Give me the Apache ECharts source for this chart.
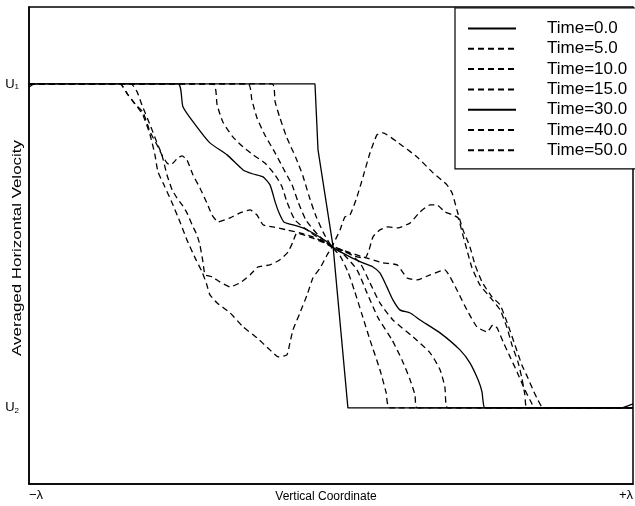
<!DOCTYPE html>
<html>
<head>
<meta charset="utf-8">
<script src="https://cdn.jsdelivr.net/npm/echarts@6/dist/echarts.min.js"></script>
<style>
html,body{margin:0;padding:0;background:#fff;}
#chart{width:635px;height:506px;}
</style>
</head>
<body>
<div id="chart"></div>
<script>
// Horizontal axis in units of lambda (-1 .. +1); vertical axis: U1 = 1, U2 = -1
const xTickLabels = { '-1': '\u2212\u03bb', '1': '+\u03bb' };
const yTickValues = [1, -1];
const yTickLabels = { '1': 'U{s|1}', '-1': 'U{s|2}' };
const legendNames = ['Time=0.0', 'Time=5.0', 'Time=10.0', 'Time=15.0', 'Time=30.0', 'Time=40.0', 'Time=50.0'];

const time0 = [[-1,0.981],[-0.987,0.997],[-0.970,1],[-0.053,1],[-0.043,0.593],[0.007,-0.006],[0.056,-1],[0.964,-1],[0.983,-0.988],[1,-0.975]];
const time5 = [[-1,1],[-0.195,1],[-0.185,0.889],[-0.169,0.790],[-0.146,0.667],[-0.116,0.543],[-0.093,0.432],[-0.073,0.309],[-0.050,0.185],[-0.023,0.074],[0.003,-0.006],[0.030,-0.062],[0.056,-0.160],[0.079,-0.284],[0.103,-0.426],[0.129,-0.580],[0.162,-0.765],[0.182,-0.901],[0.195,-1],[1,-1]];
const time10 = [[-1,1],[-0.275,1],[-0.262,0.901],[-0.245,0.790],[-0.219,0.685],[-0.185,0.574],[-0.152,0.457],[-0.129,0.377],[-0.109,0.272],[-0.083,0.160],[-0.043,0.068],[0.003,-0.006],[0.040,-0.049],[0.086,-0.148],[0.119,-0.290],[0.156,-0.444],[0.202,-0.580],[0.235,-0.704],[0.262,-0.827],[0.278,-0.920],[0.285,-1],[1,-1]];
const time15 = [[-1,1],[-0.391,1],[-0.377,0.870],[-0.358,0.765],[-0.325,0.673],[-0.291,0.611],[-0.258,0.562],[-0.219,0.512],[-0.185,0.438],[-0.162,0.364],[-0.146,0.272],[-0.119,0.160],[-0.070,0.086],[-0.023,0.025],[0.003,-0.006],[0.053,-0.037],[0.096,-0.105],[0.129,-0.228],[0.162,-0.352],[0.205,-0.457],[0.272,-0.562],[0.328,-0.660],[0.361,-0.765],[0.377,-0.870],[0.387,-1],[1,-1]];
const time30 = [[-1,1],[-0.507,1],[-0.490,0.858],[-0.444,0.735],[-0.401,0.636],[-0.344,0.562],[-0.291,0.469],[-0.258,0.444],[-0.225,0.426],[-0.202,0.377],[-0.185,0.272],[-0.172,0.204],[-0.156,0.148],[-0.126,0.130],[-0.093,0.111],[-0.060,0.080],[-0.013,0.025],[0.003,-0.006],[0.063,-0.068],[0.106,-0.105],[0.139,-0.130],[0.162,-0.167],[0.185,-0.253],[0.205,-0.333],[0.228,-0.395],[0.262,-0.414],[0.295,-0.457],[0.361,-0.537],[0.427,-0.642],[0.460,-0.722],[0.487,-0.827],[0.500,-0.901],[0.503,-0.951],[0.510,-1],[1,-1]];
const time40 = [[-1,1],[-0.699,1],[-0.672,0.932],[-0.649,0.877],[-0.623,0.827],[-0.599,0.704],[-0.576,0.623],[-0.560,0.562],[-0.543,0.512],[-0.533,0.500],[-0.523,0.512],[-0.507,0.543],[-0.493,0.556],[-0.477,0.531],[-0.457,0.438],[-0.434,0.358],[-0.411,0.265],[-0.394,0.191],[-0.374,0.148],[-0.334,0.173],[-0.301,0.204],[-0.268,0.222],[-0.245,0.191],[-0.225,0.130],[-0.192,0.117],[-0.146,0.099],[-0.103,0.080],[-0.060,0.056],[-0.003,0.006],[0.046,-0.031],[0.106,-0.068],[0.172,-0.105],[0.219,-0.117],[0.252,-0.198],[0.285,-0.210],[0.328,-0.179],[0.377,-0.148],[0.394,-0.191],[0.417,-0.272],[0.450,-0.395],[0.483,-0.500],[0.517,-0.531],[0.536,-0.488],[0.550,-0.506],[0.570,-0.593],[0.593,-0.685],[0.616,-0.778],[0.639,-0.877],[0.659,-0.951],[0.675,-1],[1,-1]];
const time50 = [[-1,1],[-0.699,1],[-0.672,0.932],[-0.649,0.877],[-0.623,0.809],[-0.599,0.685],[-0.583,0.562],[-0.573,0.457],[-0.550,0.364],[-0.526,0.265],[-0.500,0.148],[-0.477,0.037],[-0.450,-0.074],[-0.427,-0.160],[-0.411,-0.241],[-0.401,-0.302],[-0.377,-0.352],[-0.334,-0.414],[-0.291,-0.500],[-0.245,-0.568],[-0.202,-0.642],[-0.175,-0.685],[-0.146,-0.673],[-0.136,-0.599],[-0.126,-0.519],[-0.103,-0.414],[-0.079,-0.302],[-0.060,-0.198],[-0.036,-0.136],[-0.013,-0.056],[0.003,-0.006],[0.030,0.099],[0.046,0.179],[0.063,0.191],[0.086,0.302],[0.106,0.426],[0.129,0.574],[0.152,0.685],[0.172,0.698],[0.219,0.642],[0.285,0.549],[0.338,0.451],[0.384,0.377],[0.401,0.327],[0.417,0.222],[0.437,0.099],[0.460,-0.006],[0.477,-0.117],[0.500,-0.222],[0.533,-0.315],[0.560,-0.364],[0.586,-0.488],[0.609,-0.611],[0.632,-0.735],[0.652,-0.815],[0.669,-0.889],[0.685,-0.951],[0.702,-1],[1,-1]];
// an additional dashed profile drawn in the figure (not listed in its legend)
const timeExtra = [[-1,1],[-0.662,1],[-0.642,0.951],[-0.626,0.870],[-0.599,0.747],[-0.576,0.636],[-0.560,0.562],[-0.543,0.438],[-0.526,0.346],[-0.510,0.296],[-0.493,0.253],[-0.477,0.204],[-0.460,0.130],[-0.444,0.068],[-0.434,0.006],[-0.424,-0.099],[-0.417,-0.179],[-0.394,-0.191],[-0.368,-0.222],[-0.334,-0.253],[-0.301,-0.228],[-0.268,-0.179],[-0.242,-0.130],[-0.202,-0.117],[-0.169,-0.086],[-0.142,-0.037],[-0.126,0.025],[-0.113,0.080],[-0.063,0.049],[-0.023,0.019],[0.003,-0.006],[0.046,-0.037],[0.086,-0.068],[0.113,-0.074],[0.126,-0.025],[0.139,0.056],[0.162,0.099],[0.189,0.117],[0.222,0.111],[0.262,0.142],[0.295,0.210],[0.328,0.253],[0.351,0.253],[0.377,0.210],[0.404,0.191],[0.421,0.173],[0.434,0.086],[0.450,-0.025],[0.467,-0.136],[0.493,-0.241],[0.526,-0.315],[0.560,-0.395],[0.583,-0.506],[0.599,-0.611],[0.619,-0.716],[0.632,-0.815],[0.642,-0.920],[0.649,-1],[1,-1]];

const FONT = 'Liberation Sans, Arial, Helvetica, sans-serif';
const DASH = [6, 4];

function line(name, data, dashed, smooth) {
  return {
    name: name,
    type: 'line',
    data: data,
    symbol: 'none',
    smooth: smooth,
    silent: true,
    lineStyle: { color: '#000', width: 1.3, type: dashed ? DASH : 'solid' },
    itemStyle: { color: '#000' },
    emphasis: { disabled: true }
  };
}

const chart = echarts.init(document.getElementById('chart'), null, { renderer: 'canvas' });
chart.setOption({
  animation: false,
  backgroundColor: '#fff',
  grid: { left: 29, right: 2, top: 7, bottom: 22, outerBoundsMode: 'none', containLabel: false, show: true, borderColor: '#000', borderWidth: 1.5, backgroundColor: 'transparent' },
  xAxis: {
    type: 'value', min: -1, max: 1, interval: 1,
    name: 'Vertical Coordinate', nameLocation: 'middle', nameGap: 7, nameMoveOverlap: false,
    nameTextStyle: { color: '#000', fontFamily: FONT, fontSize: 12, padding: [0, 10, 0, 0] },
    axisLine: { show: true, onZero: false, lineStyle: { color: '#000', width: 1.5 } },
    axisTick: { show: false },
    splitLine: { show: false },
    axisLabel: {
      color: '#000', fontFamily: FONT, fontSize: 13, margin: 5,
      alignMinLabel: 'left', alignMaxLabel: 'right',
      formatter: function (v) { return xTickLabels[String(v)] || ''; }
    }
  },
  yAxis: {
    type: 'value', min: -1.47, max: 1.475,
    axisLine: { show: true, onZero: false, lineStyle: { color: '#000', width: 1.5 } },
    axisTick: { show: false },
    splitLine: { show: false },
    axisLabel: {
      customValues: yTickValues,
      color: '#000', fontFamily: FONT, fontSize: 13, margin: 10,
      formatter: function (v) { return yTickLabels[String(v)] || ''; },
      rich: { s: { fontFamily: FONT, fontSize: 8, padding: [6, 0, 0, 0], color: '#000' } }
    }
  },
  legend: {
    data: legendNames,
    orient: 'vertical',
    left: 455, top: 8,
    padding: [12, 9, 10, 12],
    itemWidth: 48, itemHeight: 14, itemGap: 3.3,
    borderColor: '#000', borderWidth: 1.2,
    backgroundColor: '#fff',
    selectedMode: false,
    itemStyle: { opacity: 0 },
    textStyle: { color: '#000', fontFamily: FONT, fontSize: 17, lineHeight: 16, padding: [0, 0, 0, 26] }
  },
  graphic: [{
    type: 'text', x: 17, y: 248, rotation: Math.PI / 2, scaleX: 1.3, silent: true,
    style: { text: 'Averaged Horizontal Velocity', font: '13px ' + FONT, fill: '#000', align: 'center', verticalAlign: 'middle' }
  }],
  series: [
    line('Time=0.0', time0, false, false),
    line('Time=5.0', time5, true, 0.2),
    line('Time=10.0', time10, true, 0.2),
    line('Time=15.0', time15, true, 0.2),
    line('Time=30.0', time30, false, 0.2),
    line('Time=40.0', time40, true, 0.15),
    line('Time=50.0', time50, true, 0.15),
    line('profile', timeExtra, true, 0.15)
  ]
});
</script>
</body>
</html>
